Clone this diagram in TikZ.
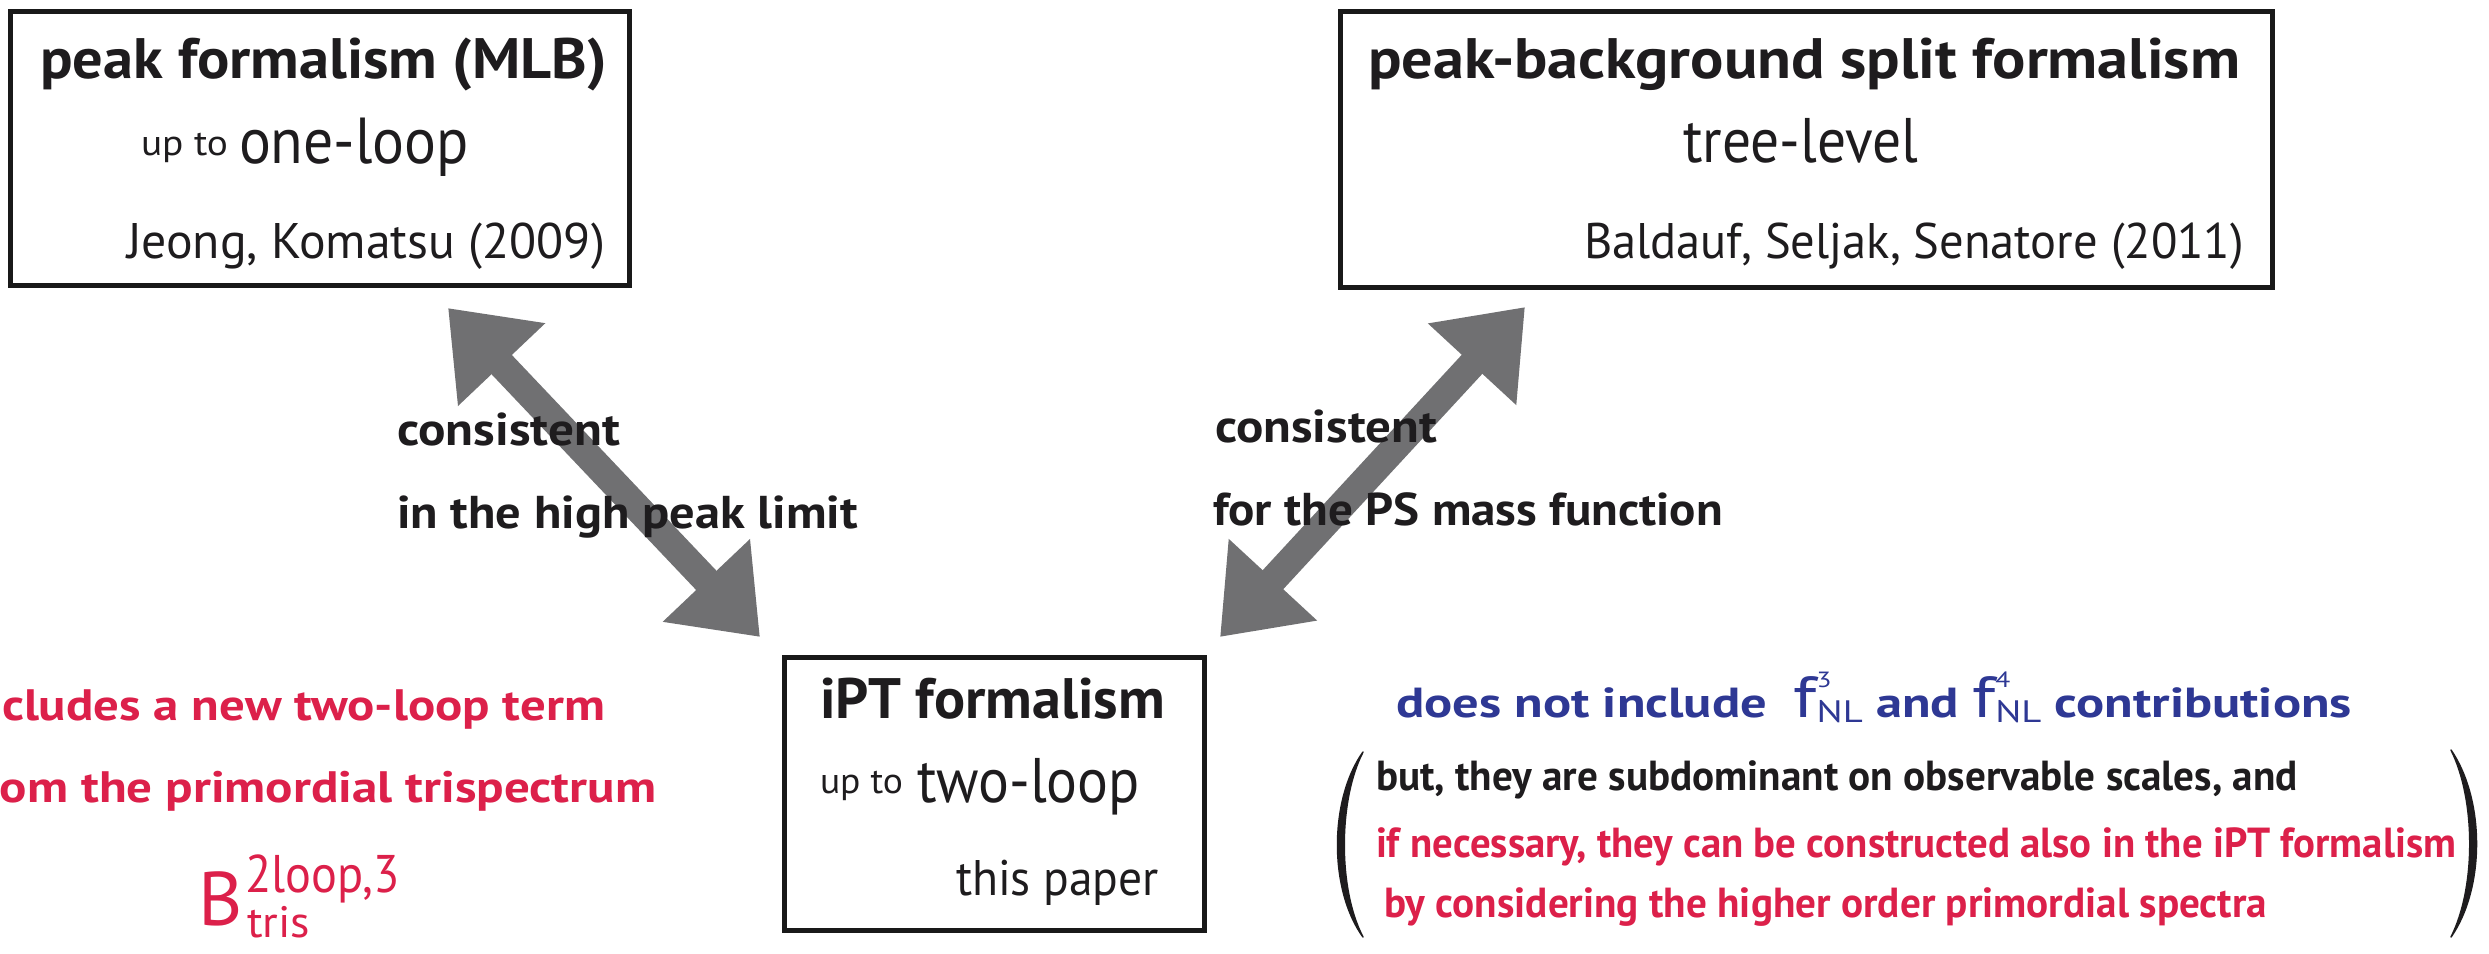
\documentclass[tikz,border=0pt]{standalone}
\usepackage{fontspec}
\setmainfont{PT Sans}
\usepackage{graphicx}
\usetikzlibrary{arrows.meta}
\definecolor{arrowgray}{RGB}{112,112,114}
\definecolor{txtred}{RGB}{220,32,74}
\definecolor{txtblue}{RGB}{46,56,148}
\definecolor{txtblack}{RGB}{30,28,30}
\newcommand\fitx[2]{\resizebox{#1pt}{\height}{#2}}
\newcommand\fs[1]{\fontsize{#1}{#1}\selectfont}
\begin{document}
\begin{tikzpicture}[x=1pt,y=-1pt,
  txt/.style={inner sep=0pt, outer sep=0pt, anchor=base west, text=txtblack},
  frame/.style={draw=black!90, line width=5pt, inner sep=0pt, anchor=north west},
  bigarrow/.style={draw=arrowgray, line width=28pt,
    {Triangle[length=78pt,width=115pt]}-{Triangle[length=78pt,width=115pt]}},
  paren/.style={fill=txtblack, draw=txtblack, line width=1.5pt, line join=round}]
\useasboundingbox (0,0) rectangle (2489,953);
\fill[white] (0,0) rectangle (2489,953);

% boxes
\node[frame, minimum width=619pt, minimum height=274pt] (mlb) at (8,9) {};
\node[frame, minimum width=932pt, minimum height=276pt] (pbs) at (1338,9) {};
\node[frame, minimum width=420pt, minimum height=273pt] (ipt) at (782,655) {};

% box 1
\node[txt] (mlbT) at (40,78) {\fitx{567}{\fs{57}\bfseries peak formalism (MLB)}};
\node[txt] (mlbU) at (141,155) {\fitx{87}{\fs{36}up to}};
\node[txt] (mlbO) at (239,163) {\fitx{230}{\fs{65}one-loop}};
\node[txt] (mlbR) at (127,258) {\fitx{478}{\fs{50}Jeong, Komatsu (2009)}};

% box 2
\node[txt] (pbsT) at (1368,78) {\fitx{872}{\fs{57}\bfseries peak-background split formalism}};
\node[txt] (pbsO) at (1683,162) {\fitx{235}{\fs{63}tree-level}};
\node[txt] (pbsR) at (1584,258) {\fitx{660}{\fs{50}Baldauf, Seljak, Senatore (2011)}};

% box 3
\node[txt] (iptT) at (820,718) {\fitx{345}{\fs{57}\bfseries iPT formalism}};
\node[txt] (iptU) at (820,793) {\fitx{83}{\fs{36}up to}};
\node[txt] (iptO) at (917,802) {\fitx{223}{\fs{63}two-loop}};
\node[txt] (iptR) at (956,895) {\fitx{203}{\fs{50}this paper}};

% arrows
\coordinate (a1s) at (448,308);
\coordinate (a1e) at (760,637);
\coordinate (a2s) at (1220,637);
\coordinate (a2e) at (1525,307);
\draw[bigarrow] (a1s) -- (a1e);
\draw[bigarrow] (a2s) -- (a2e);

% arrow labels
\node[txt] (c1) at (397,445) {\fitx{223}{\fs{46}\bfseries consistent}};
\node[txt] (l1) at (397,528) {\fitx{461}{\fs{46}\bfseries in the high peak limit}};
\node[txt] (c2) at (1215,442) {\fitx{222}{\fs{46}\bfseries consistent}};
\node[txt] (l2) at (1213,525) {\fitx{510}{\fs{46}\bfseries for the PS mass function}};

% left red text
\node[txt, text=txtred] (r1) at (2,720) {\fitx{603}{\fs{44}\bfseries cludes a new two-loop term}};
\node[txt, text=txtred] (r2) at (0,802) {\fitx{656}{\fs{44}\bfseries om the primordial trispectrum}};
\node[txt, text=txtred] (rB) at (198,925) {\fs{76}B};
\node[txt, text=txtred] (rBsup) at (245,892) {\fitx{155}{\fs{53}2loop,3}};
\node[txt, text=txtred] (rBsub) at (247,937) {\fitx{63}{\fs{44}tris}};

% right blue text
\node[txt, text=txtblue] (bl) at (1396,717) {\fitx{956}{\fs{42}\bfseries does not include\ \ %
  {\mdseries\fs{58}f}\makebox[0pt][l]{\raisebox{30pt}{\mdseries\fs{22}3}}\raisebox{-5pt}{\mdseries\fs{31}NL}
  and {\mdseries\fs{58}f}\makebox[0pt][l]{\raisebox{30pt}{\mdseries\fs{22}4}}\raisebox{-5pt}{\mdseries\fs{31}NL}
  contributions}};

% parenthesised block
\node[txt] (p1) at (1376,790) {\fitx{922}{\fs{42}\bfseries but, they are subdominant on observable scales, and}};
\node[txt, text=txtred] (p2) at (1376,857) {\fitx{1080}{\fs{42}\bfseries if necessary, they can be constructed also in the iPT formalism}};
\node[txt, text=txtred] (p3) at (1384,917) {\fitx{883}{\fs{42}\bfseries by considering the higher order primordial spectra}};

\filldraw[paren] (1363,752) .. controls (1329,800) and (1329,890) .. (1363,937)
  .. controls (1338,890) and (1338,800) .. (1363,752) -- cycle;
\filldraw[paren] (2451,750) .. controls (2485,800) and (2485,888) .. (2451,937)
  .. controls (2476,888) and (2476,800) .. (2451,750) -- cycle;
\end{tikzpicture}
\end{document}
